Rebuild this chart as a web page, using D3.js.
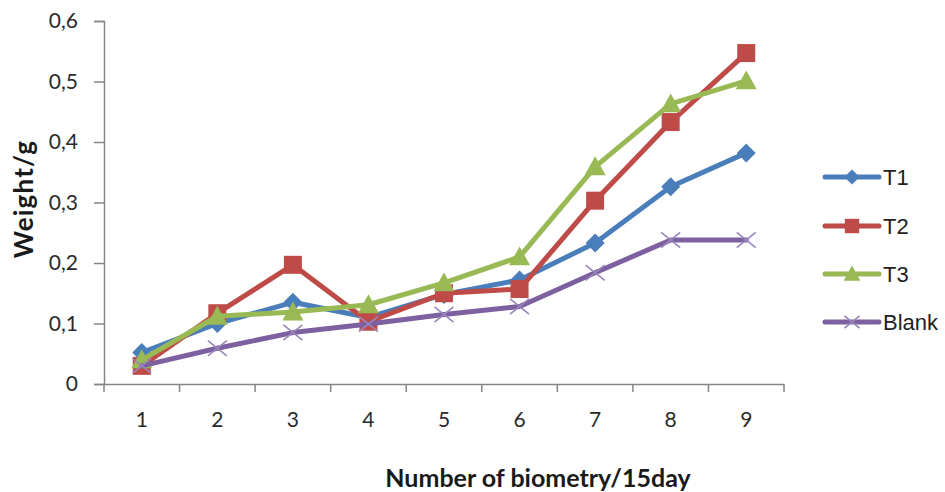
<!DOCTYPE html>
<html>
<head>
<meta charset="utf-8">
<script src="https://cdn.jsdelivr.net/npm/d3@7/dist/d3.min.js"></script>
<style>
  html, body { margin: 0; padding: 0; background: #fff; }
  svg { display: block; }
</style>
</head>
<body>
<svg id="chart" width="945" height="492"></svg>
<script>
// Biometry rounds and mean weight per treatment
const categories = ["1", "2", "3", "4", "5", "6", "7", "8", "9"];
const t1 = [0.052, 0.100, 0.135, 0.110, 0.148, 0.172, 0.233, 0.326, 0.382];
const t2 = [0.030, 0.117, 0.197, 0.103, 0.150, 0.157, 0.303, 0.433, 0.547];
const t3 = [0.040, 0.112, 0.119, 0.131, 0.167, 0.210, 0.359, 0.463, 0.501];
const blank = [0.030, 0.059, 0.085, 0.099, 0.115, 0.128, 0.184, 0.238, 0.238];
const yTicks = [0, 0.1, 0.2, 0.3, 0.4, 0.5, 0.6];
const yTickLabels = ["0", "0,1", "0,2", "0,3", "0,4", "0,5", "0,6"];

const series = [
  { name: "T1", values: t1, color: "#4a7ebb", marker: "diamond" },
  { name: "T2", values: t2, color: "#be4b48", marker: "square" },
  { name: "T3", values: t3, color: "#98b954", marker: "triangle" },
  { name: "Blank", values: blank, color: "#7d60a0", marker: "cross" }
];

const svg = d3.select("#chart");
const font = "Lato, 'Open Sans', sans-serif";
const axisColor = "#868686";

const plot = { left: 104, right: 784, top: 21, bottom: 384 };

const x = d3.scaleBand().domain(categories).range([plot.left, plot.right]).padding(0);
const y = d3.scaleLinear().domain([0, 0.6]).range([plot.bottom, plot.top]);
const cx = c => x(c) + x.bandwidth() / 2;

// Y axis
const yAxis = d3.axisLeft(y).tickValues(yTicks)
  .tickFormat((d, i) => yTickLabels[i]).tickSize(10).tickPadding(16);
const gy = svg.append("g").attr("transform", `translate(${plot.left},0)`).call(yAxis);
gy.select(".domain").attr("stroke", axisColor).attr("stroke-width", 1.5);
gy.selectAll(".tick line").attr("stroke", axisColor).attr("stroke-width", 1.5);
gy.selectAll(".tick text").attr("font-family", font).attr("font-size", 21).attr("fill", "#2a2a2a");

// X axis with ticks on category boundaries
const xAxis = d3.axisBottom(x).tickSize(0).tickPadding(28);
const gx = svg.append("g").attr("transform", `translate(0,${plot.bottom})`).call(xAxis);
gx.select(".domain").attr("stroke", axisColor).attr("stroke-width", 1.5);
gx.selectAll(".tick text").attr("font-family", font).attr("font-size", 21).attr("fill", "#2a2a2a");
const bounds = categories.map(c => x(c)).concat([plot.right]);
gx.selectAll(".bound").data(bounds).enter().append("line")
  .attr("class", "bound")
  .attr("x1", d => d).attr("x2", d => d)
  .attr("y1", 0).attr("y2", 8)
  .attr("stroke", axisColor).attr("stroke-width", 1.5);

// Axis titles
svg.append("text")
  .attr("x", 538).attr("y", 487)
  .attr("text-anchor", "middle")
  .attr("font-family", font).attr("font-size", 25).attr("font-weight", "bold")
  .attr("fill", "#1a1a1a")
  .text("Number of biometry/15day");
svg.append("text")
  .attr("transform", "translate(33,199) rotate(-90)")
  .attr("text-anchor", "middle")
  .attr("font-family", font).attr("font-size", 26).attr("font-weight", "bold")
  .attr("letter-spacing", 1.2)
  .attr("fill", "#1a1a1a")
  .text("Weight/g");

// Marker drawing
function drawMarker(g, type, color, px, py, scale) {
  const s = scale || 1;
  if (type === "diamond") {
    const r = 9.5 * s;
    g.append("path").attr("d", `M${px},${py - r}L${px + r},${py}L${px},${py + r}L${px - r},${py}Z`)
      .attr("fill", color);
  } else if (type === "square") {
    const r = 9 * s;
    g.append("rect").attr("x", px - r).attr("y", py - r).attr("width", 2 * r).attr("height", 2 * r)
      .attr("fill", color);
  } else if (type === "triangle") {
    const r = 10.5 * s;
    g.append("path").attr("d", `M${px},${py - r}L${px + r},${py + r * 0.8}L${px - r},${py + r * 0.8}Z`)
      .attr("fill", color);
  } else if (type === "cross") {
    const r = 9.5 * s;
    g.append("path").attr("d", `M${px - r},${py - r * 0.8}L${px + r},${py + r * 0.8}M${px - r},${py + r * 0.8}L${px + r},${py - r * 0.8}`)
      .attr("stroke", "#9a86bd").attr("stroke-width", 1.6).attr("fill", "none");
  }
}

const line = d3.line().x((d, i) => cx(categories[i])).y(d => y(d));

series.forEach(s => {
  const g = svg.append("g");
  g.append("path").datum(s.values).attr("d", line)
    .attr("fill", "none").attr("stroke", s.color).attr("stroke-width", 5)
    .attr("stroke-linejoin", "round").attr("stroke-linecap", "round");
  s.values.forEach((v, i) => drawMarker(g, s.marker, s.color, cx(categories[i]), y(v)));
});

// Legend
const legendY = [177, 226, 274, 322];
series.forEach((s, i) => {
  const g = svg.append("g");
  const ly = legendY[i];
  g.append("line").attr("x1", 825).attr("x2", 879).attr("y1", ly).attr("y2", ly)
    .attr("stroke", s.color).attr("stroke-width", 5).attr("stroke-linecap", "round");
  drawMarker(g, s.marker, s.color, 852, ly, 0.8);
  g.append("text").attr("x", 883).attr("y", ly + 8)
    .attr("font-family", "'Liberation Sans', Arial, sans-serif").attr("font-size", 22).attr("fill", "#222")
    .text(s.name);
});
</script>
</body>
</html>
